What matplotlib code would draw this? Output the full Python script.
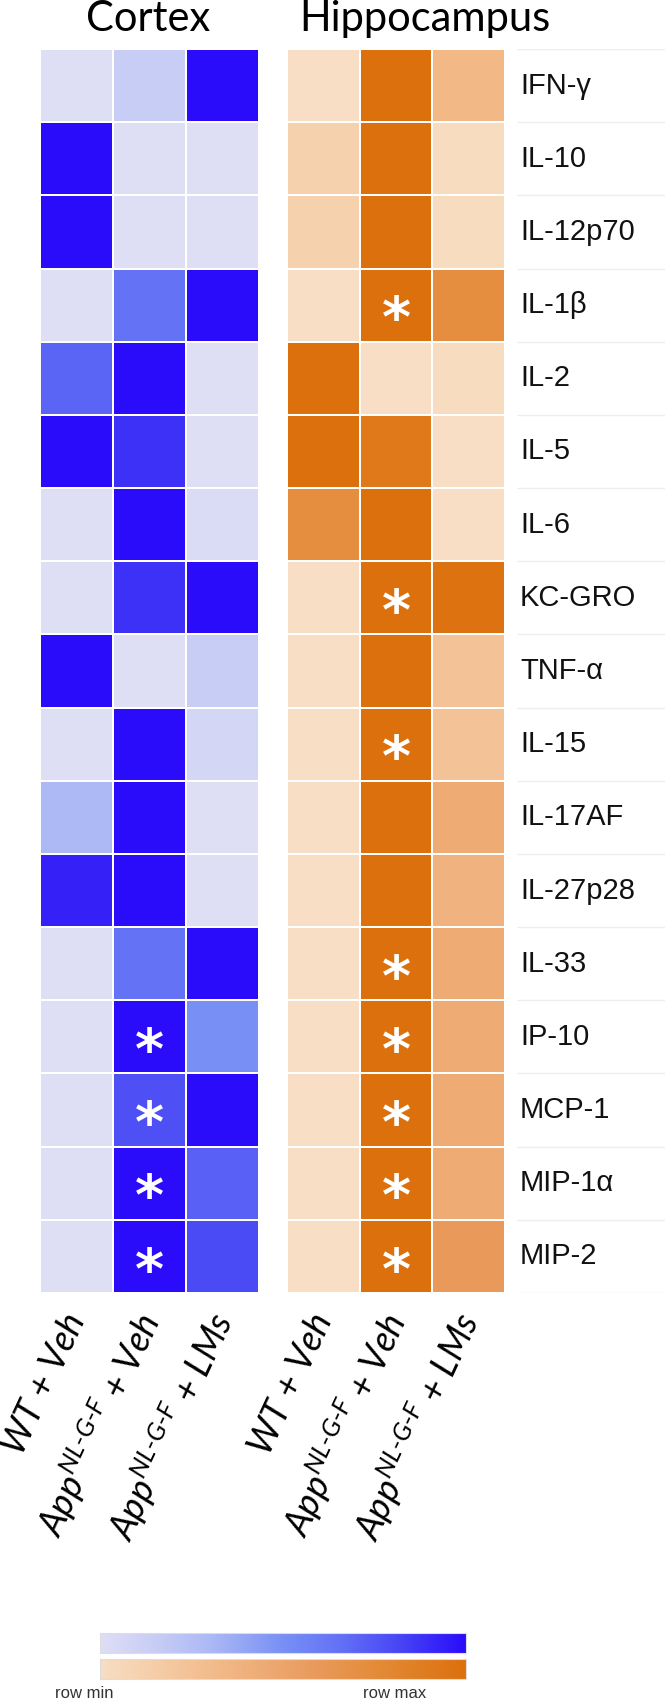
import numpy as np
import matplotlib
matplotlib.use("Agg")
import matplotlib.pyplot as plt
import matplotlib.colors as mcolors

plt.rcParams['mathtext.fontset'] = 'custom'
plt.rcParams['mathtext.it'] = 'Lato:italic'
plt.rcParams['mathtext.rm'] = 'Lato'

# 行标签 (细胞因子)
cytokines = ['IFN-γ', 'IL-10', 'IL-12p70', 'IL-1β', 'IL-2', 'IL-5', 'IL-6', 'KC-GRO',
             'TNF-α', 'IL-15', 'IL-17AF', 'IL-27p28', 'IL-33', 'IP-10', 'MCP-1',
             'MIP-1α', 'MIP-2']
groups = ['WT + Veh',
          r'$App^{NL\text{-}G\text{-}F}$ + Veh',
          r'$App^{NL\text{-}G\text{-}F}$ + LMs']

# 按行归一化的数值 (0 = row min, 1 = row max)
cortex = [
    [0.00, 0.15, 1.00],
    [1.00, 0.00, 0.00],
    [1.00, 0.00, 0.00],
    [0.00, 0.65, 1.00],
    [0.70, 1.00, 0.00],
    [1.00, 0.88, 0.00],
    [0.00, 1.00, 0.03],
    [0.00, 0.88, 1.00],
    [1.00, 0.00, 0.15],
    [0.00, 1.00, 0.07],
    [0.30, 1.00, 0.00],
    [0.93, 1.00, 0.00],
    [0.00, 0.65, 1.00],
    [0.00, 1.00, 0.50],
    [0.00, 0.78, 1.00],
    [0.00, 1.00, 0.72],
    [0.00, 1.00, 0.80],
]
hippocampus = [
    [0.00, 1.00, 0.33],
    [0.12, 1.00, 0.02],
    [0.12, 1.00, 0.02],
    [0.00, 1.00, 0.72],
    [1.00, 0.00, 0.02],
    [1.00, 0.92, 0.00],
    [0.72, 1.00, 0.00],
    [0.00, 1.00, 0.98],
    [0.00, 1.00, 0.25],
    [0.00, 1.00, 0.25],
    [0.00, 1.00, 0.45],
    [0.00, 1.00, 0.38],
    [0.00, 1.00, 0.45],
    [0.00, 1.00, 0.45],
    [0.00, 1.00, 0.45],
    [0.00, 1.00, 0.45],
    [0.00, 1.00, 0.60],
]

# 显著性标记 (行, 列)
cortex_sig = [(13, 1), (14, 1), (15, 1), (16, 1)]
hippo_sig = [(3, 1), (7, 1), (9, 1), (12, 1), (13, 1), (14, 1), (15, 1), (16, 1)]

blue_cmap = mcolors.LinearSegmentedColormap.from_list('blue', [
    (0.00, '#DEDEF5'), (0.15, '#C8CDF5'), (0.30, '#ADB9F5'), (0.50, '#7890F5'),
    (0.65, '#6473F5'), (0.80, '#4B4BF5'), (1.00, '#2A0CFA')])
orange_cmap = mcolors.LinearSegmentedColormap.from_list('orange', [
    (0.00, '#F8DEC4'), (0.33, '#F2B987'), (0.60, '#E9995A'), (0.75, '#E48C3A'),
    (1.00, '#DC700C')])

W, H = 668, 1701
fig = plt.figure(figsize=(W / 100, H / 100), dpi=100)


def px_axes(x0, y0, x1, y1):
    return fig.add_axes([x0 / W, 1 - y1 / H, (x1 - x0) / W, (y1 - y0) / H])


def draw_heat(ax, data, cmap, sig):
    data = np.array(data)
    ax.pcolormesh(data, cmap=cmap, vmin=0, vmax=1, edgecolors='white', linewidth=1.2)
    ax.set_xlim(0, 3)
    ax.set_ylim(len(data), 0)
    for s in ax.spines.values():
        s.set_visible(False)
    ax.set_yticks([])
    ax.set_xticks(np.arange(3) + 0.5)
    ax.set_xticklabels(groups, rotation=65, ha='right', va='center', rotation_mode='anchor',
                       fontsize=26, fontstyle='italic', family='Lato')
    ax.tick_params(axis='x', length=0, pad=16)
    for r, c in sig:
        ax.text(c + 0.5, r + 0.72, '*', color='white', fontsize=40, fontweight='bold',
                ha='center', va='center', family='DejaVu Sans')


top, bottom = 49, 1293
ax_c = px_axes(40, top, 259, bottom)
draw_heat(ax_c, cortex, blue_cmap, cortex_sig)
ax_h = px_axes(287, top, 505, bottom)
draw_heat(ax_h, hippocampus, orange_cmap, hippo_sig)

# 行标签
ax_l = px_axes(517, top, 665, bottom)
ax_l.set_xlim(0, 1)
ax_l.set_ylim(len(cytokines), 0)
ax_l.axis('off')
ax_l.hlines(np.arange(len(cytokines) + 1), 0, 1, color='#EEEEEE', linewidth=1)
for i, name in enumerate(cytokines):
    ax_l.text(0.02, i + 0.5, name, fontsize=21, va='center', ha='left',
              family='Liberation Sans', color='#111111')

# 标题
fig.text(148 / W, 1 - 31 / H, 'Cortex', fontsize=30, ha='center', va='baseline', family='Lato')
fig.text(425 / W, 1 - 31 / H, 'Hippocampus', fontsize=30, ha='center', va='baseline', family='Lato')

# 色标
grad = np.linspace(0, 1, 256)[None, :]
for (y0, y1), cm in [((1633, 1653), blue_cmap), ((1659, 1679), orange_cmap)]:
    cax = px_axes(100, y0, 466, y1)
    cax.imshow(grad, cmap=cm, aspect='auto')
    cax.set_xticks([])
    cax.set_yticks([])
    for s in cax.spines.values():
        s.set_color('#DDDDDD')
fig.text(84 / W, 1 - 1693 / H, 'row min', fontsize=12, ha='center', va='center',
         family='Liberation Sans', color='#333333')
fig.text(395 / W, 1 - 1693 / H, 'row max', fontsize=12, ha='center', va='center',
         family='Liberation Sans', color='#333333')

fig.savefig('out.png', dpi=100)
